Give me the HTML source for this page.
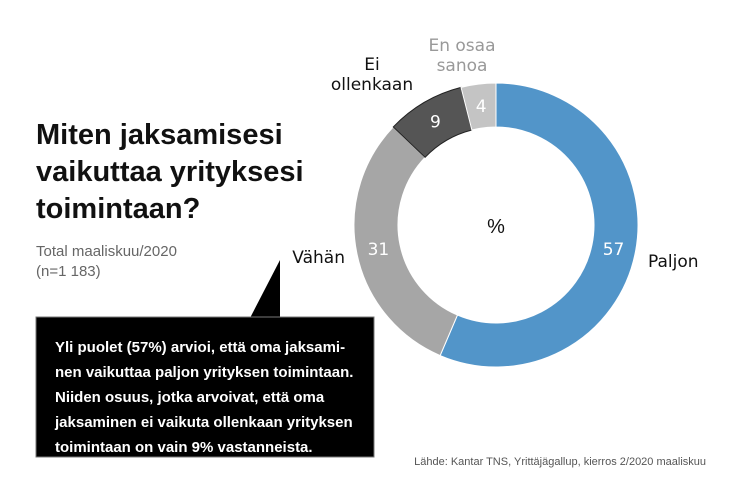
<!DOCTYPE html>
<html><head><meta charset="utf-8"><style>
body{margin:0;width:740px;height:493px;background:#fff;font-family:"Liberation Sans",sans-serif;position:relative;overflow:hidden}
.t{position:absolute;white-space:nowrap}
</style></head><body>
<div class="t" style="left:36px;top:117px;font-size:29px;font-weight:bold;line-height:37px;color:#111">Miten jaksamisesi<br>vaikuttaa yrityksesi<br>toimintaan?</div>
<div class="t" style="left:36px;top:242px;font-size:15px;line-height:20px;color:#666">Total maaliskuu/2020<br>(n=1 183)</div>
<svg width="740" height="493" style="position:absolute;left:0;top:0">
<polygon points="250,318 280,260 280,318" fill="#000"/>
<rect x="36" y="317" width="338" height="140" fill="#000" stroke="#777" stroke-width="1"/>
<g id="donut"></g>
<text x="496" y="233" font-size="20" text-anchor="middle" font-family="Liberation Sans" fill="#111">%</text>
</svg>
<div class="t" style="left:55px;top:335px;font-size:15px;font-weight:bold;line-height:25px;color:#fff">Yli puolet (57%) arvioi, että oma jaksami-<br>nen vaikuttaa paljon yrityksen toimintaan.<br>Niiden osuus, jotka arvoivat, että oma<br>jaksaminen ei vaikuta ollenkaan yrityksen<br>toimintaan on vain 9% vastanneista.</div>
<div class="t" style="right:34px;top:456px;font-size:11px;color:#555">Lähde: Kantar TNS, Yrittäjägallup, kierros 2/2020 maaliskuu</div>
<script>
const categories=["Paljon","Vähän","Ei ollenkaan","En osaa sanoa"];
const values=[57,31,9,4];
const colors=["#5295c9","#a6a6a6","#555555","#c4c4c4"];
const cx=496,cy=225,R=142,r=98;
const g=document.getElementById('donut');
const NS='http://www.w3.org/2000/svg';
const total=values.reduce((a,b)=>a+b,0);
function pt(a,rad){return [cx+rad*Math.sin(a),cy-rad*Math.cos(a)];}
let acc=0;
const labelPos=[];
values.forEach((v,i)=>{
  const a0=acc/total*2*Math.PI;acc+=v;const a1=acc/total*2*Math.PI;
  const large=(a1-a0)>Math.PI?1:0;
  const p0=pt(a0,R),p1=pt(a1,R),q1=pt(a1,r),q0=pt(a0,r);
  const p=document.createElementNS(NS,'path');
  p.setAttribute('d',`M${p0[0]},${p0[1]}A${R},${R} 0 ${large} 1 ${p1[0]},${p1[1]}L${q1[0]},${q1[1]}A${r},${r} 0 ${large} 0 ${q0[0]},${q0[1]}Z`);
  p.setAttribute('fill',colors[i]);p.setAttribute('stroke',i==2?'#222':'#fff');p.setAttribute('stroke-width','1');
  
  
  g.appendChild(p);
  const am=(a0+a1)/2;const c=pt(am,(R+r)/2);
  const t=document.createElementNS(NS,'text');
  t.setAttribute('x',c[0]);t.setAttribute('y',c[1]+6);t.setAttribute('text-anchor','middle');
  t.setAttribute('font-size','17');t.setAttribute('font-family','DejaVu Sans, sans-serif');t.setAttribute('fill','#fff');
  
  
  t.textContent=v;g.appendChild(t);
});
const cats=[["Paljon",648,267,"start","#111"],["Vähän",345,263,"end","#111"],["Ei\nollenkaan",372,70,"middle","#111"],["En osaa\nsanoa",462,51,"middle","#999"]];
cats.forEach(c=>{
  const t=document.createElementNS(NS,'text');
  t.setAttribute('text-anchor',c[3]);t.setAttribute('font-size','17');t.setAttribute('font-family','DejaVu Sans, sans-serif');t.setAttribute('fill',c[4]);
  
  
  c[0].split('\n').forEach((s,k)=>{const ts=document.createElementNS(NS,'tspan');ts.setAttribute('x',c[1]);ts.setAttribute('y',c[2]+k*20);ts.textContent=s;t.appendChild(ts);});
  g.appendChild(t);
});
</script>
</body></html>
